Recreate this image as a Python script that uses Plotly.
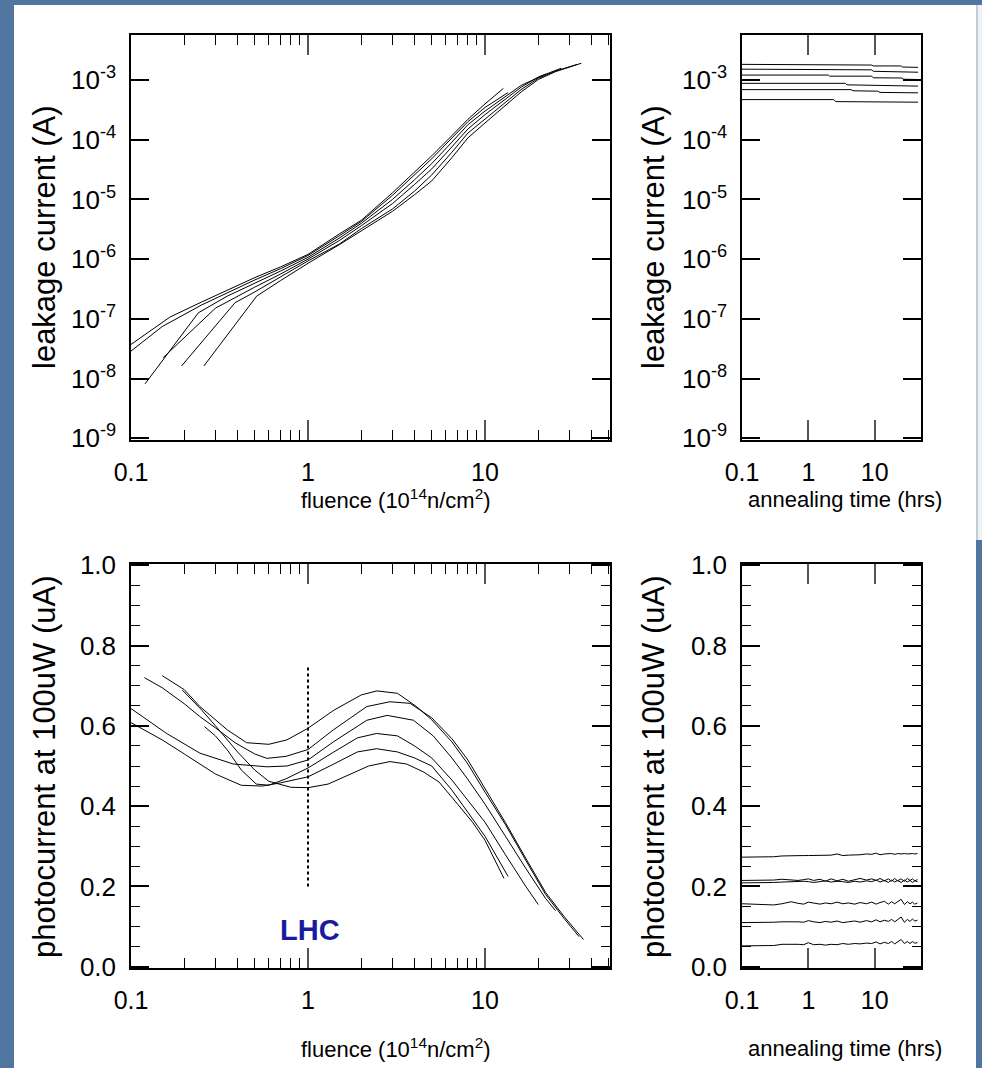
import plotly.graph_objects as go

W, H = 982, 1068

# ---------------- data: leakage current vs fluence (top-left) ----------------
leak_c1_x = [0.1, 0.166, 0.25, 0.35, 0.5, 0.7, 1.0, 1.5, 2.0, 3.0, 4.0, 5.0, 6.5, 8.0, 10, 12.7]
leak_c1_y = [3.72e-8, 1.07e-7, 1.905e-7, 3.02e-7, 4.90e-7, 7.41e-7, 1.20e-6, 2.63e-6, 4.47e-6,
             1.29e-5, 2.88e-5, 5.37e-5, 1.17e-4, 2.19e-4, 3.98e-4, 7.24e-4]
leak_c2_x = [0.1, 0.15, 0.25, 0.35, 0.5, 0.7, 1.0, 1.5, 2.0, 3.0, 4.0, 5.0, 6.5, 8.0, 10, 13.5]
leak_c2_y = [2.88e-8, 7.41e-8, 1.70e-7, 2.75e-7, 4.47e-7, 6.92e-7, 1.15e-6, 2.45e-6, 4.27e-6,
             1.17e-5, 2.57e-5, 4.79e-5, 1.07e-4, 2.00e-4, 3.47e-4, 6.17e-4]
leak_c3_x = [0.12, 0.24, 0.35, 0.5, 0.7, 1.0, 1.5, 2.0, 3.0, 4.0, 5.0, 6.5, 8.0, 10, 12.5, 16, 22]
leak_c3_y = [8.13e-9, 1.26e-7, 2.40e-7, 3.89e-7, 6.31e-7, 1.07e-6, 2.24e-6, 3.98e-6, 1.00e-5,
             2.14e-5, 3.98e-5, 9.12e-5, 1.78e-4, 3.02e-4, 4.90e-4, 8.13e-4, 1.26e-3]
leak_c4_x = [0.152, 0.30, 0.5, 0.7, 1.0, 1.5, 2.0, 3.0, 4.0, 5.0, 6.5, 8.0, 10, 12.5, 16, 20, 27]
leak_c4_y = [2.24e-8, 1.51e-7, 3.39e-7, 5.62e-7, 1.00e-6, 2.04e-6, 3.63e-6, 8.51e-6, 1.78e-5,
             3.24e-5, 7.59e-5, 1.51e-4, 2.63e-4, 4.37e-4, 7.59e-4, 1.12e-3, 1.58e-3]
leak_c5_x = [0.193, 0.387, 0.5, 0.7, 1.0, 1.5, 2.0, 3.0, 4.0, 5.0, 6.5, 8.0, 10, 12.5, 16, 20, 25, 33]
leak_c5_y = [1.62e-8, 1.86e-7, 2.82e-7, 5.01e-7, 9.33e-7, 1.78e-6, 3.24e-6, 6.92e-6, 1.38e-5,
             2.57e-5, 6.17e-5, 1.29e-4, 2.24e-4, 3.80e-4, 6.92e-4, 1.07e-3, 1.41e-3, 1.82e-3]
leak_c6_x = [0.258, 0.513, 0.7, 1.0, 1.5, 2.0, 3.0, 4.0, 5.0, 6.5, 8.0, 10, 12.5, 16, 20, 25, 35]
leak_c6_y = [1.62e-8, 2.40e-7, 4.37e-7, 8.51e-7, 1.74e-6, 2.95e-6, 6.31e-6, 1.20e-5, 2.04e-5,
             5.01e-5, 1.07e-4, 1.91e-4, 3.31e-4, 6.31e-4, 1.02e-3, 1.38e-3, 1.91e-3]

# ---------------- data: leakage current vs annealing time (top-right) ----------------
ann_l1_x = [0.1, 2.0, 2.1, 9.0, 9.5, 25, 26, 45]
ann_l1_y = [1.83e-3, 1.83e-3, 1.78e-3, 1.78e-3, 1.72e-3, 1.72e-3, 1.65e-3, 1.63e-3]
ann_l2_x = [0.1, 2.0, 2.1, 9.0, 9.5, 45]
ann_l2_y = [1.52e-3, 1.52e-3, 1.48e-3, 1.48e-3, 1.40e-3, 1.35e-3]
ann_l3_x = [0.1, 2.0, 2.1, 9.0, 9.5, 26, 27, 45]
ann_l3_y = [1.21e-3, 1.21e-3, 1.16e-3, 1.16e-3, 1.09e-3, 1.08e-3, 1.03e-3, 1.02e-3]
ann_l4_x = [0.1, 0.17]
ann_l4_y = [1.0e-3, 1.0e-3]
ann_l5_x = [0.1, 3.6, 3.8, 45]
ann_l5_y = [8.8e-4, 8.8e-4, 8.3e-4, 7.9e-4]
ann_l6_x = [0.1, 4.4, 4.7, 11, 12, 45]
ann_l6_y = [6.9e-4, 6.9e-4, 6.6e-4, 6.5e-4, 6.2e-4, 6.1e-4]
ann_l7_x = [0.1, 2.4, 2.6, 45]
ann_l7_y = [4.7e-4, 4.7e-4, 4.35e-4, 4.25e-4]

# ---------------- data: photocurrent vs fluence (bottom-left) ----------------
pc_a_x = [0.15, 0.2, 0.245, 0.35, 0.45, 0.6, 0.76, 1.0, 1.4, 2.0, 2.45, 3.2, 4.1, 5.0, 6.5, 8.0,
          10, 13, 17, 22, 28, 34]
pc_a_y = [0.725, 0.69, 0.648, 0.59, 0.558, 0.554, 0.565, 0.594, 0.639, 0.677, 0.687, 0.681, 0.648,
          0.615, 0.56, 0.505, 0.435, 0.355, 0.265, 0.18, 0.12, 0.075]
pc_b_x = [0.119, 0.15, 0.2, 0.245, 0.3, 0.387, 0.5, 0.585, 0.75, 1.0, 1.39, 2.15, 2.9, 3.77, 5.0,
          6.5, 8.0, 10, 13, 17, 22, 28, 36]
pc_b_y = [0.72, 0.695, 0.655, 0.623, 0.595, 0.558, 0.53, 0.519, 0.524, 0.541, 0.59, 0.648, 0.66,
          0.656, 0.62, 0.568, 0.515, 0.445, 0.36, 0.27, 0.185, 0.125, 0.068]
pc_c_x = [0.1, 0.159, 0.245, 0.378, 0.585, 0.76, 1.0, 1.39, 2.15, 2.8, 3.94, 5.1, 6.5, 7.9, 10,
          13, 17, 22, 25]
pc_c_y = [0.643, 0.581, 0.532, 0.505, 0.498, 0.50, 0.515, 0.56, 0.614, 0.626, 0.614, 0.575, 0.52,
          0.47, 0.405, 0.325, 0.245, 0.17, 0.14]
pc_d_x = [0.26, 0.3, 0.35, 0.42, 0.51, 0.6, 0.75, 1.0, 1.4, 1.9, 2.44, 3.2, 4.0, 5.0, 6.5, 8.0,
          10, 13, 17, 20]
pc_d_y = [0.598, 0.575, 0.54, 0.49, 0.455, 0.452, 0.468, 0.495, 0.535, 0.57, 0.581, 0.575, 0.55,
          0.52, 0.465, 0.415, 0.36, 0.28, 0.2, 0.155]
pc_e_x = [0.1, 0.15, 0.2, 0.3, 0.42, 0.55, 0.7, 1.0, 1.4, 1.9, 2.44, 3.2, 4.0, 5.0, 6.5, 8.0,
          10, 13.5]
pc_e_y = [0.608, 0.565, 0.53, 0.48, 0.452, 0.45, 0.458, 0.473, 0.505, 0.535, 0.543, 0.535, 0.52,
          0.5, 0.44, 0.385, 0.325, 0.225]
pc_f_x = [0.195, 0.25, 0.3, 0.4, 0.5, 0.6, 0.8, 1.0, 1.3, 1.7, 2.2, 2.9, 3.6, 4.5, 5.5, 7.0,
          8.5, 10, 12.8]
pc_f_y = [0.689, 0.64, 0.6, 0.535, 0.49, 0.462, 0.447, 0.446, 0.455, 0.478, 0.5, 0.511, 0.505,
          0.485, 0.46, 0.405, 0.36, 0.315, 0.22]

lhc_x = [1.0, 1.0]
lhc_y = [0.2, 0.75]

# ---------------- data: photocurrent vs annealing time (bottom-right) ----------------
anneal_t = [0.1, 0.15, 0.2, 0.3, 0.4, 0.55, 0.7, 0.85, 1.0, 1.2, 1.5, 1.8, 2.2, 2.7, 3.3, 4.0,
            5.0, 6.0, 7.5, 9.0, 10.5, 12, 14, 16, 18, 20, 22, 25, 28, 31, 34, 37, 40, 44]
pa_1 = [0.273, 0.273, 0.273, 0.274, 0.276, 0.277, 0.277, 0.277, 0.277, 0.277, 0.277, 0.277,
        0.278, 0.281, 0.277, 0.278, 0.278, 0.279, 0.281, 0.280, 0.283, 0.279, 0.281, 0.281,
        0.282, 0.280, 0.282, 0.281, 0.282, 0.281, 0.282, 0.282, 0.281, 0.282]
pa_2 = [0.215, 0.215, 0.215, 0.216, 0.218, 0.216, 0.215, 0.217, 0.219, 0.215, 0.218, 0.213,
        0.219, 0.214, 0.218, 0.213, 0.217, 0.220, 0.216, 0.219, 0.215, 0.220, 0.214, 0.219,
        0.213, 0.220, 0.214, 0.219, 0.213, 0.220, 0.215, 0.219, 0.214, 0.217]
pa_3 = [0.209, 0.209, 0.209, 0.210, 0.211, 0.212, 0.211, 0.213, 0.212, 0.210, 0.212, 0.214,
        0.211, 0.213, 0.212, 0.210, 0.213, 0.211, 0.214, 0.212, 0.216, 0.211, 0.215, 0.210,
        0.216, 0.211, 0.215, 0.210, 0.216, 0.211, 0.215, 0.210, 0.214, 0.212]
pa_4 = [0.157, 0.156, 0.155, 0.154, 0.157, 0.162, 0.158, 0.156, 0.161, 0.159, 0.156, 0.159,
        0.157, 0.161, 0.157, 0.159, 0.156, 0.160, 0.157, 0.161, 0.156, 0.160, 0.163, 0.156,
        0.162, 0.157, 0.161, 0.168, 0.155, 0.162, 0.157, 0.161, 0.156, 0.159]
pa_5 = [0.110, 0.110, 0.110, 0.111, 0.112, 0.113, 0.112, 0.111, 0.115, 0.112, 0.110, 0.113,
        0.111, 0.114, 0.110, 0.112, 0.114, 0.111, 0.115, 0.112, 0.117, 0.112, 0.116, 0.113,
        0.118, 0.112, 0.117, 0.124, 0.111, 0.118, 0.113, 0.119, 0.114, 0.116]
pa_6 = [0.052, 0.052, 0.052, 0.053, 0.056, 0.057, 0.056, 0.055, 0.060, 0.055, 0.056, 0.054,
        0.056, 0.055, 0.058, 0.056, 0.058, 0.057, 0.059, 0.058, 0.062, 0.057, 0.061, 0.058,
        0.063, 0.057, 0.062, 0.068, 0.058, 0.063, 0.058, 0.063, 0.059, 0.060]

# ---------------- tick definitions ----------------
log_major_x = [0.1, 1, 10]
log_major_x_text = ["0.1", "1", "10"]
log_minor_x = [0.2, 0.3, 0.4, 0.5, 0.6, 0.7, 0.8, 0.9, 2, 3, 4, 5, 6, 7, 8, 9, 20, 30, 40, 50]
leak_ticks = [1e-9, 1e-8, 1e-7, 1e-6, 1e-5, 1e-4, 1e-3]
leak_ticktext = ["10<sup>-9</sup>", "10<sup>-8</sup>", "10<sup>-7</sup>", "10<sup>-6</sup>",
                 "10<sup>-5</sup>", "10<sup>-4</sup>", "10<sup>-3</sup>"]
pc_ticks = [0.0, 0.2, 0.4, 0.6, 0.8, 1.0]
pc_ticktext = ["0.0", "0.2", "0.4", "0.6", "0.8", "1.0"]

FONT = "Liberation Sans, Arial, sans-serif"
BLUE_BG = "#50769f"


def fx(p):
    return p / W


def fy(p):
    return 1 - p / H


fig = go.Figure()


def add_lines(pairs, xa, ya, width=1.0):
    for xs, ys in pairs:
        fig.add_trace(go.Scatter(x=xs, y=ys, mode="lines", xaxis=xa, yaxis=ya,
                                 line=dict(color="black", width=width),
                                 showlegend=False, hoverinfo="skip"))


add_lines([(leak_c1_x, leak_c1_y), (leak_c2_x, leak_c2_y), (leak_c3_x, leak_c3_y),
           (leak_c4_x, leak_c4_y), (leak_c5_x, leak_c5_y), (leak_c6_x, leak_c6_y)], "x", "y")
add_lines([(ann_l1_x, ann_l1_y), (ann_l2_x, ann_l2_y), (ann_l3_x, ann_l3_y), (ann_l4_x, ann_l4_y),
           (ann_l5_x, ann_l5_y), (ann_l6_x, ann_l6_y), (ann_l7_x, ann_l7_y)], "x2", "y2")
add_lines([(pc_a_x, pc_a_y), (pc_b_x, pc_b_y), (pc_c_x, pc_c_y), (pc_d_x, pc_d_y),
           (pc_e_x, pc_e_y), (pc_f_x, pc_f_y)], "x3", "y3")
fig.add_trace(go.Scatter(x=lhc_x, y=lhc_y, mode="lines", xaxis="x3", yaxis="y3",
                         line=dict(color="black", width=2, dash="dot"),
                         showlegend=False, hoverinfo="skip"))
add_lines([(anneal_t, pa_1), (anneal_t, pa_2), (anneal_t, pa_3), (anneal_t, pa_4),
           (anneal_t, pa_5), (anneal_t, pa_6)], "x4", "y4")


def xaxis_log(domain, rng, minor=True, anchor="y"):
    d = dict(domain=domain, type="log", range=rng, anchor=anchor, automargin=False,
             tickmode="array", tickvals=log_major_x, ticktext=log_major_x_text,
             ticks="inside", ticklen=20, tickwidth=2, tickcolor="#555555",
             showline=True, linecolor="black", linewidth=1.5, mirror="ticks",
             showgrid=False, zeroline=False,
             tickfont=dict(family=FONT, size=25, color="black"),
             ticklabelstandoff=9)
    if minor:
        d["minor"] = dict(tickmode="array", tickvals=log_minor_x, ticks="inside", ticklen=10,
                          tickwidth=1, tickcolor="black", showgrid=False)
    return d


def yaxis_log(domain, anchor):
    return dict(domain=domain, type="log", range=[-9.03, -2.246], anchor=anchor, automargin=False,
                tickmode="array", tickvals=leak_ticks, ticktext=leak_ticktext,
                ticks="inside", ticklen=18, tickwidth=1.5, tickcolor="black",
                showline=True, linecolor="black", linewidth=1.5, mirror="ticks",
                showgrid=False, zeroline=False,
                tickfont=dict(family=FONT, size=26, color="black"),
                ticklabelstandoff=8)


def yaxis_lin(domain, anchor):
    return dict(domain=domain, range=[-0.003, 1.003], anchor=anchor, automargin=False,
                tickmode="array", tickvals=pc_ticks, ticktext=pc_ticktext,
                ticks="inside", ticklen=18, tickwidth=1.5, tickcolor="black",
                minor=dict(dtick=0.05, tick0=0, ticks="inside", ticklen=9, tickwidth=1,
                           tickcolor="black", showgrid=False),
                showline=True, linecolor="black", linewidth=1.5, mirror="ticks",
                showgrid=False, zeroline=False,
                tickfont=dict(family=FONT, size=26, color="black"),
                ticklabelstandoff=8)


top_dom = [fy(440), fy(35)]
bot_dom = [fy(968), fy(564)]
left_dom = [fx(131), fx(610)]
right_dom = [fx(742), fx(921)]

fig.update_layout(
    width=W, height=H, margin=dict(l=0, r=0, t=0, b=0, pad=0, autoexpand=False),
    paper_bgcolor=BLUE_BG, plot_bgcolor="white",
    showlegend=False,
    xaxis=xaxis_log(left_dom, [-1, 1.706], True, "y"),
    yaxis=yaxis_log(top_dom, "x"),
    xaxis2=xaxis_log(right_dom, [-1, 1.697], False, "y2"),
    yaxis2=yaxis_log(top_dom, "x2"),
    xaxis3=xaxis_log(left_dom, [-1, 1.706], True, "y3"),
    yaxis3=yaxis_lin(bot_dom, "x3"),
    xaxis4=xaxis_log(right_dom, [-1, 1.697], False, "y4"),
    yaxis4=yaxis_lin(bot_dom, "x4"),
)

# white slide area
fig.add_shape(type="rect", xref="paper", yref="paper", x0=fx(14), x1=fx(976), y0=0, y1=fy(5),
              fillcolor="white", line=dict(width=0), layer="below")
fig.add_shape(type="rect", xref="paper", yref="paper", x0=fx(976), x1=1, y0=fy(540), y1=fy(5),
              fillcolor="#eef2f6", line=dict(width=0), layer="below")
fig.add_shape(type="line", xref="paper", yref="paper", x0=fx(977), x1=fx(977), y0=fy(540),
              y1=fy(5), line=dict(color="#9aa8b8", width=1), layer="below")

title_font = dict(family=FONT, size=22, color="black")
ytitle_font = dict(family=FONT, size=31, color="black")

annos = [
    dict(text="fluence (10<sup>14</sup>n/cm<sup>2</sup>)", x=fx(396), y=fy(499), font=title_font),
    dict(text="annealing time (hrs)", x=fx(845), y=fy(499), font=title_font),
    dict(text="fluence (10<sup>14</sup>n/cm<sup>2</sup>)", x=fx(396), y=fy(1048), font=title_font),
    dict(text="annealing time (hrs)", x=fx(845), y=fy(1048), font=title_font),
    dict(text="leakage current (A)", x=fx(44), y=fy(237), font=ytitle_font, textangle=-90),
    dict(text="leakage current (A)", x=fx(653), y=fy(237), font=ytitle_font, textangle=-90),
    dict(text="photocurrent at 100uW (uA)", x=fx(44), y=fy(767), font=ytitle_font, textangle=-90),
    dict(text="photocurrent at 100uW (uA)", x=fx(653), y=fy(767), font=ytitle_font, textangle=-90),
    dict(text="<b>LHC</b>", x=fx(310), y=fy(930), font=dict(family=FONT, size=29, color="#1a1a9e")),
]
for a in annos:
    fig.add_annotation(xref="paper", yref="paper", showarrow=False, xanchor="center",
                       yanchor="middle", **a)

fig.write_html("out.html")
